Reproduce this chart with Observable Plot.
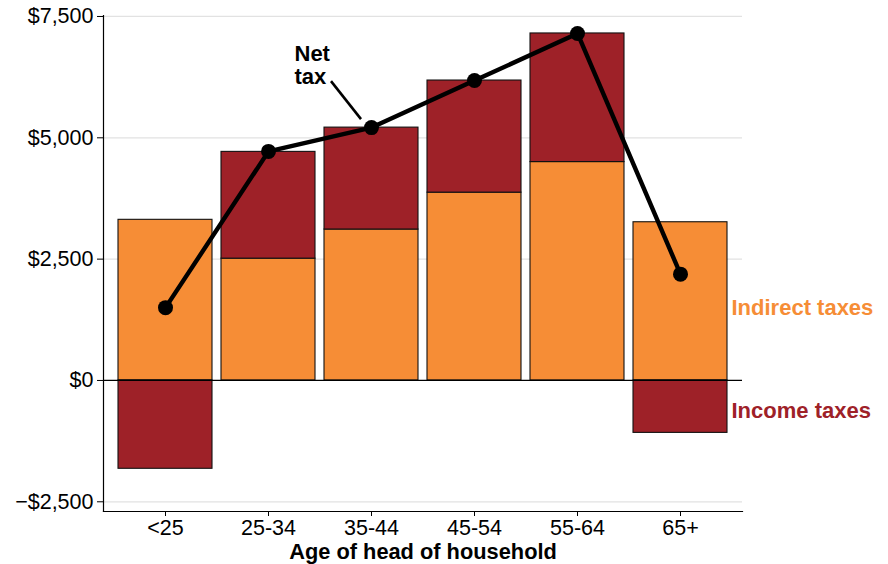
<!DOCTYPE html>
<html>
<head>
<meta charset="utf-8">
<script src="https://cdn.jsdelivr.net/npm/d3@7"></script>
<script src="https://cdn.jsdelivr.net/npm/@observablehq/plot@0.6"></script>
<style>
  html, body { margin: 0; padding: 0; background: #fff; }
  #chart { width: 888px; height: 564px; }
</style>
</head>
<body>
<div id="chart"></div>
<script>
const ages = ["<25", "25-34", "35-44", "45-54", "55-64", "65+"];
const indirectTaxes = [3310, 2510, 3110, 3870, 4500, 3260];
const incomeTaxes = [-1820, 2200, 2100, 2310, 2650, -1080];
const netTax = [1500, 4720, 5210, 6180, 7150, 2190];
const yTicks = [-2500, 0, 2500, 5000, 7500];
const seriesNames = ["Indirect taxes", "Income taxes"];
const seriesColors = ["#f68d36", "#9e2128"];

const bars = [];
ages.forEach((a, i) => {
  bars.push({age: a, type: seriesNames[0], value: indirectTaxes[i]});
  bars.push({age: a, type: seriesNames[1], value: incomeTaxes[i]});
});
const net = ages.map((a, i) => ({age: a, value: netTax[i]}));
const last = ages.length - 1;
const indirectLabel = [{age: ages[last], value: indirectTaxes[last] / 2, text: seriesNames[0]}];
const incomeLabel = [{age: ages[last], value: incomeTaxes[last] / 2, text: seriesNames[1]}];
const fmt = v => (v < 0 ? "\u2212" : "") + "$" + d3.format(",")(Math.abs(v));
const font = "'Liberation Sans', Arial, Helvetica, sans-serif";

const plot = Plot.plot({
  width: 888,
  height: 564,
  marginLeft: 103,
  marginRight: 146,
  marginTop: 15,
  marginBottom: 53,
  style: {fontFamily: font, fontSize: "21.5px", background: "#fff", color: "#000", overflow: "visible"},
  x: {type: "band", domain: ages, paddingInner: 0.09, paddingOuter: 0.14, label: null},
  y: {domain: [-2700, 7520], label: null},
  color: {domain: seriesNames, range: seriesColors},
  marks: [
    Plot.gridY(yTicks.filter(d => d !== 0), {stroke: "#e2e2e2", strokeOpacity: 1, strokeWidth: 1.3}),
    Plot.barY(bars, {x: "age", y: "value", fill: "type", stroke: "#111", strokeWidth: 1.1}),
    Plot.ruleY([0], {stroke: "#000", strokeWidth: 1.2}),
    Plot.line(net, {x: "age", y: "value", stroke: "#000", strokeWidth: 4.4}),
    Plot.dot(net, {x: "age", y: "value", r: 7.5, fill: "#000", stroke: "none"}),
    Plot.text(indirectLabel, {x: "age", y: "value", text: "text", fill: seriesColors[0], dx: 51, dy: 7,
      textAnchor: "start", fontWeight: "bold", fontSize: 22}),
    Plot.text(incomeLabel, {x: "age", y: "value", text: "text", fill: seriesColors[1], dx: 51, dy: 4,
      textAnchor: "start", fontWeight: "bold", fontSize: 22}),
    Plot.text([net[2]], {x: "age", y: "value", text: () => "Net\ntax", dx: -77, dy: -83,
      textAnchor: "start", lineAnchor: "top", lineHeight: 1.05, fontWeight: "bold", fontSize: 22, fill: "#000"}),
    Plot.axisY(yTicks, {tickFormat: fmt, tickSize: 6, tickPadding: 4, fontSize: 21.5, label: null}),
    Plot.axisX({tickSize: 5, tickPadding: 3, fontSize: 21.5, label: null}),
    Plot.text(["Age of head of household"], {frameAnchor: "bottom", dy: 47, fontWeight: "bold", fontSize: 21.8, fill: "#000"}),
    Plot.frame({anchor: "left", stroke: "#000", strokeWidth: 1.2}),
    Plot.frame({anchor: "bottom", stroke: "#000", strokeWidth: 1.2})
  ]
});

// Annotation connector for "Net tax", positioned via the plot's own scales
const xs = plot.scale("x"), ys = plot.scale("y");
const cx = xs.apply(net[2].age) + xs.bandwidth / 2;
const cy = ys.apply(net[2].value);
d3.select(plot).append("line")
  .attr("x1", cx - 40).attr("y1", cy - 46)
  .attr("x2", cx - 10).attr("y2", cy - 8)
  .attr("stroke", "#000").attr("stroke-width", 2.6);

document.getElementById("chart").appendChild(plot);
</script>
</body>
</html>
